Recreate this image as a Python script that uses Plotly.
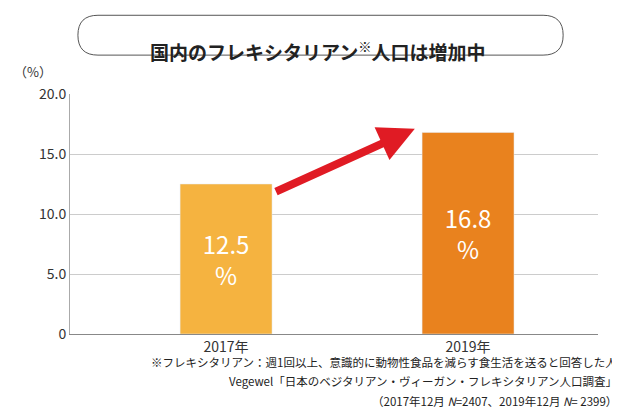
import plotly.graph_objects as go

years = ["2017年", "2019年"]
values = [12.5, 16.8]
labels = ["12.5<br>%", "16.8<br>%"]
colors = ["#F5B340", "#E9821E"]
yticks = [0, 5, 10, 15, 20]
yticktext = ["0", "5.0", "10.0", "15.0", "20.0"]

fig = go.Figure()
fig.add_trace(go.Bar(x=[0, 1], y=values, width=0.38, marker_color=colors,
                     text=labels, textposition="inside", insidetextanchor="middle",
                     textfont=dict(color="white", size=24, family="Noto Sans CJK JP"),
                     hoverinfo="skip"))
fig.update_layout(
    width=620, height=412, margin=dict(l=62, r=30, t=86, b=86, autoexpand=False),
    plot_bgcolor="white", paper_bgcolor="white", showlegend=False,
    font=dict(family="Noto Sans CJK JP", color="#333", size=13),
    xaxis=dict(range=[-0.645, 1.537], tickvals=[0, 1], ticktext=years,
               showgrid=False, zeroline=False, showline=True, linecolor="#888",
               ticks="", tickfont=dict(size=14)),
    yaxis=dict(range=[0, 20], tickvals=yticks, ticktext=yticktext,
               showgrid=True, gridcolor="#ccc", zeroline=False,
               showline=True, linecolor="#aaa", ticks="", tickfont=dict(size=14)),
)
fig.add_annotation(x=0.78, y=17.1, ax=0.2, ay=11.8, xref="x", yref="y", axref="x", ayref="y",
                   showarrow=True, arrowhead=2, arrowsize=0.9, arrowwidth=8, arrowcolor="#E01B24", text="")
x0, x1, y0, y1, rx, ry = 0.015, 0.934, 1.162, 1.328, 0.038, 0.083
path = (f"M {x0+rx},{y0} L {x1-rx},{y0} Q {x1},{y0} {x1},{y0+ry} Q {x1},{y1} {x1-rx},{y1} "
        f"L {x0+rx},{y1} Q {x0},{y1} {x0},{y1-ry} Q {x0},{y0} {x0+rx},{y0} Z")
fig.add_shape(type="path", xref="paper", yref="paper", path=path,
              line=dict(color="#555", width=1), fillcolor="white")
fig.add_annotation(xref="paper", yref="paper", x=0.47, y=1.245, showarrow=False,
                   text="<b>国内のフレキシタリアン<sup>※</sup>人口は増加中</b>",
                   font=dict(size=19, color="#222"))
fig.add_annotation(xref="paper", yref="paper", x=-0.11, y=1.14, xanchor="left", showarrow=False,
                   text="（%）", font=dict(size=13))
notes = ["※フレキシタリアン：週1回以上、意識的に動物性食品を減らす食生活を送ると回答した人",
         "Vegewel「日本のベジタリアン・ヴィーガン・フレキシタリアン人口調査」",
         "（2017年12月 <i>N</i>=2407、2019年12月 <i>N</i>= 2399）"]
for i, t in enumerate(notes):
    fig.add_annotation(xref="paper", yref="paper", x=1.04, y=-0.158 - i * 0.081, xanchor="right",
                       showarrow=False, text=t, font=dict(size=11.5, color="#222"))
fig.write_html("out.html")
